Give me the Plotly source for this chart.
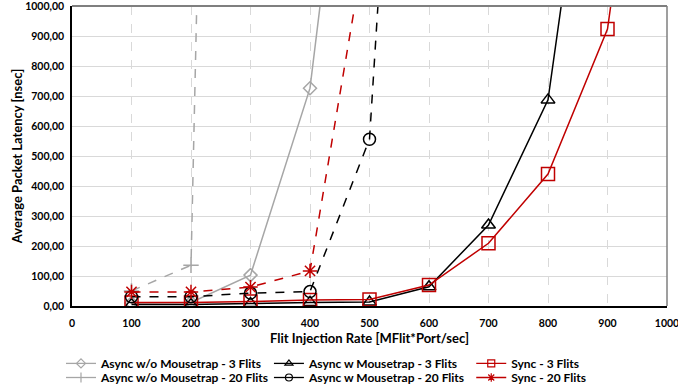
import plotly.graph_objects as go

async_wo_3_x = [100, 200, 300, 400, 500]
async_wo_3_y = [10, 12, 103, 726, 2350]

async_wo_20_x = [100, 200, 300]
async_wo_20_y = [50, 136, 9100]

async_w_3_x = [100, 200, 300, 400, 500, 600, 700, 800, 900]
async_w_3_y = [5, 5, 8, 12, 13, 64, 270, 687, 2100]

async_w_20_x = [100, 200, 300, 400, 500, 600]
async_w_20_y = [31, 31, 43, 48, 556, 3700]

sync_3_x = [100, 200, 300, 400, 500, 600, 700, 800, 900, 1000]
sync_3_y = [12, 12, 15, 20, 22, 70, 209, 440, 923, 2350]

sync_20_x = [100, 200, 300, 400, 500]
sync_20_y = [47, 47, 63, 117, 1290]

GREY = "#A6A6A6"
BLACK = "#000000"
RED = "#C00000"

fig = go.Figure()

series = [
    ("Async w/o Mousetrap - 3 Flits", async_wo_3_x, async_wo_3_y, GREY, "solid", "diamond-open", 10),
    ("Async w Mousetrap - 3 Flits", async_w_3_x, async_w_3_y, BLACK, "solid", "triangle-up-open", 12),
    ("Sync - 3 Flits", sync_3_x, sync_3_y, RED, "solid", "square-open", 13),
    ("Async w/o Mousetrap - 20 Flits", async_wo_20_x, async_wo_20_y, GREY, "dash", "cross-thin-open", 11),
    ("Async w Mousetrap - 20 Flits", async_w_20_x, async_w_20_y, BLACK, "dash", "circle-open", 12),
    ("Sync - 20 Flits", sync_20_x, sync_20_y, RED, "dash", "asterisk-open", 12),
]

for name, x, y, color, dash, symbol, size in series:
    fig.add_trace(go.Scatter(
        x=x, y=y, name=name, mode="lines+markers", showlegend=False,
        line=dict(color=color, width=1.5, dash=dash),
        marker=dict(symbol=symbol, size=size, color=color,
                    line=dict(color=color, width=1.5)),
    ))

font = "Lato, 'Open Sans', sans-serif"
legend_font = dict(family=font, size=12, color="#000000", weight="bold")

# one legend per entry so the 3x2 grid is placed like the reference
col_x = [-0.0185, 0.331, 0.671]
row_y = [-0.143, -0.19]
legend_layout = {}
for i, (name, x, y, color, dash, symbol, size) in enumerate(series):
    key = "legend" if i == 0 else f"legend{i + 1}"
    fig.add_trace(go.Scatter(
        x=[None], y=[None], name=name, mode="lines+markers", showlegend=True,
        legend=key,
        line=dict(color=color, width=1.3, dash="solid"),
        marker=dict(symbol=symbol, size=7, color=color,
                    line=dict(color=color, width=1.2)),
    ))
    legend_layout[key] = dict(
        orientation="h", x=col_x[i % 3], xanchor="left",
        y=row_y[i // 3], yanchor="top",
        bgcolor="rgba(0,0,0,0)", font=legend_font, itemwidth=30,
    )

fig.update_layout(
    width=678, height=387,
    margin=dict(l=72, r=11, t=6, b=81, autoexpand=False),
    paper_bgcolor="white", plot_bgcolor="white",
    separators=", ",
    font=dict(family=font, size=11, color="#000000"),
    showlegend=True,
    xaxis=dict(
        range=[0, 1000], dtick=100, tick0=0,
        showgrid=True, gridcolor="#D9D9D9", griddash="dash", gridwidth=1,
        showline=True, linecolor="#000000", linewidth=2,
        zeroline=False, ticks="", automargin=True, ticklabeloverflow="allow",
        ticklabelstandoff=6,
        tickfont=dict(family=font, size=10.5, weight="bold"),
        title=dict(text="Flit Injection Rate [MFlit*Port/sec]",
                   font=dict(family=font, size=13, weight="bold"), standoff=6),
    ),
    yaxis=dict(
        range=[0, 1000], dtick=100, tick0=0, tickformat=".2f",
        showgrid=True, gridcolor="#D9D9D9", gridwidth=1,
        showline=True, linecolor="#000000", linewidth=1.5,
        zeroline=False, ticks="", automargin=True, ticklabeloverflow="allow",
        ticklabelstandoff=4,
        tickfont=dict(family=font, size=10.5, weight="bold"),
        title=dict(text="Average Packet Latency [nsec]",
                   font=dict(family=font, size=13, weight="bold"), standoff=0),
    ),
    **legend_layout,
)

fig.add_shape(type="line", xref="paper", yref="paper", x0=0, x1=1, y0=1, y1=1,
              line=dict(color="#7F7F7F", width=2))
fig.add_shape(type="line", xref="paper", yref="paper", x0=1, x1=1, y0=0, y1=1,
              line=dict(color="#7F7F7F", width=1.5))

fig.write_html("out.html", config={"displayModeBar": False},
               post_script="document.body.style.margin='0';")
